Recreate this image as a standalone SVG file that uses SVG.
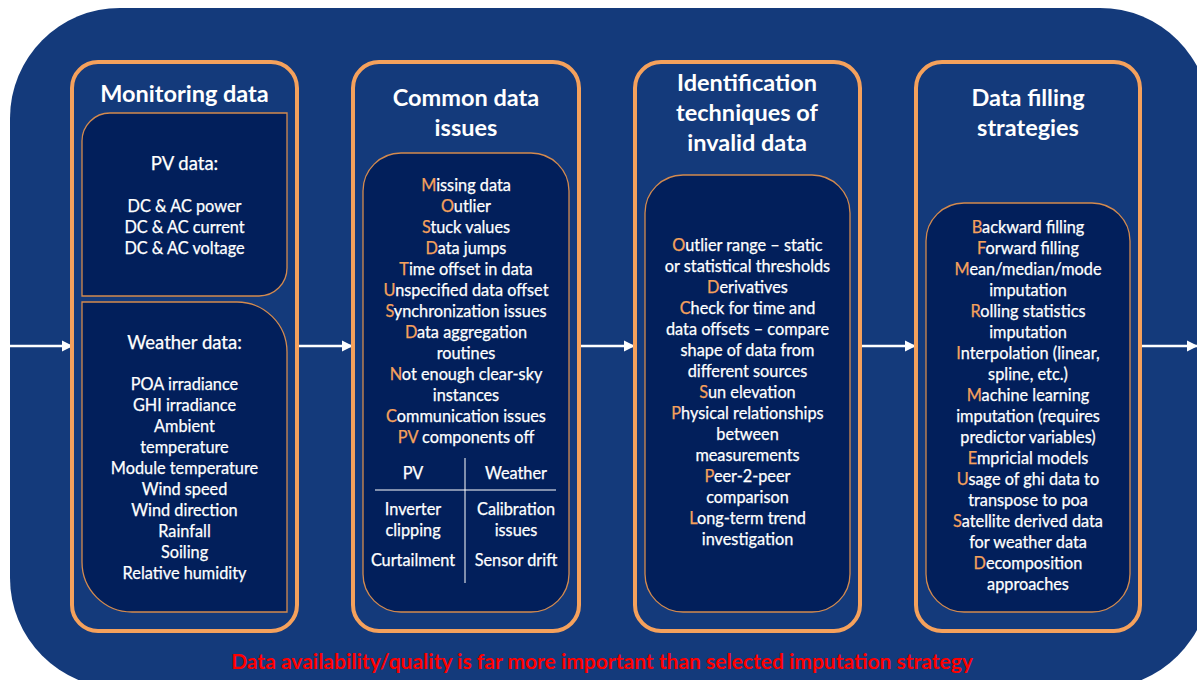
<svg xmlns="http://www.w3.org/2000/svg" width="1197" height="680" viewBox="0 0 1197 680">
<defs>
<style>
.bg{fill:#143a7b}
.panel{fill:#143a7b;stroke:#f5a15c;stroke-width:4}
.inner{fill:#021f5b;stroke:#d48a4e;stroke-width:1.3}
.t{font-family:Lato,"Open Sans",sans-serif;fill:#ffffff;text-anchor:middle}
.title{font-size:23.5px;font-weight:bold}
.body{font-size:16.3px;stroke:#ffffff;stroke-width:0.25}
.sub{font-size:18.5px}
.o{fill:#f5a15c;stroke:#f5a15c}
.conn{stroke:#ffffff;stroke-width:2.5;fill:none;marker-end:url(#ah)}
.note{font-family:Lato,"Open Sans",sans-serif;font-size:21px;font-weight:bold;fill:#ff0000;text-anchor:middle}
</style>
<marker id="ah" viewBox="0 0 10 10" refX="9" refY="5" markerWidth="4.6" markerHeight="4.6" orient="auto" markerUnits="strokeWidth">
<path d="M0,0 L10,5 L0,10 Z" fill="#ffffff"/>
</marker>
</defs>
<rect width="1197" height="680" fill="#ffffff"/>
<rect class="bg" x="10" y="8" width="1200" height="680" rx="110" ry="110"/>

<g id="connectors">
<line class="conn" x1="10" y1="346" x2="72" y2="346"/>
<line class="conn" x1="298" y1="346" x2="352" y2="346"/>
<line class="conn" x1="580" y1="346" x2="634" y2="346"/>
<line class="conn" x1="861" y1="346" x2="915" y2="346"/>
<line class="conn" x1="1141" y1="346" x2="1197" y2="346"/>
</g>

<g id="monitoring">
<rect class="panel" x="72" y="62" width="225" height="569" rx="26"/>
<text class="t title" x="184.5" y="102">Monitoring data</text>
<g id="pv-data">
<path class="inner" d="M110 113 H287 V268 A28 28 0 0 1 259 296 H82 V141 A28 28 0 0 1 110 113 Z"/>
<text class="t body sub" x="184.5" y="170">PV data:</text>
<text class="t body" x="184.5" y="212">DC &amp; AC power</text>
<text class="t body" x="184.5" y="233">DC &amp; AC current</text>
<text class="t body" x="184.5" y="254">DC &amp; AC voltage</text>
</g>
<g id="weather-data">
<path class="inner" d="M82 302 H237 A50 50 0 0 1 287 352 V612 H132 A50 50 0 0 1 82 562 Z"/>
<text class="t body sub" x="184.5" y="349">Weather data:</text>
<text class="t body" x="184.5" y="390">POA irradiance</text>
<text class="t body" x="184.5" y="411">GHI irradiance</text>
<text class="t body" x="184.5" y="432">Ambient</text>
<text class="t body" x="184.5" y="453">temperature</text>
<text class="t body" x="184.5" y="474">Module temperature</text>
<text class="t body" x="184.5" y="495">Wind speed</text>
<text class="t body" x="184.5" y="516">Wind direction</text>
<text class="t body" x="184.5" y="537">Rainfall</text>
<text class="t body" x="184.5" y="558">Soiling</text>
<text class="t body" x="184.5" y="579">Relative humidity</text>
</g>
</g>

<g id="common-issues">
<rect class="panel" x="353" y="62" width="226" height="569" rx="26"/>
<text class="t title" x="466" y="106">Common data</text>
<text class="t title" x="466" y="136">issues</text>
<rect class="inner" x="363" y="153" width="206" height="459" rx="38"/>
<text class="t body" x="466" y="191"><tspan class="o">M</tspan>issing data</text>
<text class="t body" x="466" y="212"><tspan class="o">O</tspan>utlier</text>
<text class="t body" x="466" y="233"><tspan class="o">S</tspan>tuck values</text>
<text class="t body" x="466" y="254"><tspan class="o">D</tspan>ata jumps</text>
<text class="t body" x="466" y="275"><tspan class="o">T</tspan>ime offset in data</text>
<text class="t body" x="466" y="296"><tspan class="o">U</tspan>nspecified data offset</text>
<text class="t body" x="466" y="317"><tspan class="o">S</tspan>ynchronization issues</text>
<text class="t body" x="466" y="338"><tspan class="o">D</tspan>ata aggregation</text>
<text class="t body" x="466" y="359">routines</text>
<text class="t body" x="466" y="380"><tspan class="o">N</tspan>ot enough clear-sky</text>
<text class="t body" x="466" y="401">instances</text>
<text class="t body" x="466" y="422"><tspan class="o">C</tspan>ommunication issues</text>
<text class="t body" x="466" y="443"><tspan class="o">PV</tspan> components off</text>
<line x1="465" y1="458" x2="465" y2="583" stroke="#ffffff" stroke-width="1"/>
<line x1="375" y1="490" x2="556" y2="490" stroke="#ffffff" stroke-width="1"/>
<text class="t body" x="413" y="479">PV</text>
<text class="t body" x="516" y="479">Weather</text>
<text class="t body" x="413" y="515">Inverter</text>
<text class="t body" x="413" y="536">clipping</text>
<text class="t body" x="413" y="566">Curtailment</text>
<text class="t body" x="516" y="515">Calibration</text>
<text class="t body" x="516" y="536">issues</text>
<text class="t body" x="516" y="566">Sensor drift</text>
</g>

<g id="identification">
<rect class="panel" x="635" y="62" width="225" height="569" rx="26"/>
<text class="t title" x="747" y="91">Identification</text>
<text class="t title" x="747" y="121">techniques of</text>
<text class="t title" x="747" y="151">invalid data</text>
<rect class="inner" x="645" y="175" width="205" height="437" rx="38"/>
<text class="t body" x="747.5" y="251"><tspan class="o">O</tspan>utlier range – static</text>
<text class="t body" x="747.5" y="272">or statistical thresholds</text>
<text class="t body" x="747.5" y="293"><tspan class="o">D</tspan>erivatives</text>
<text class="t body" x="747.5" y="314"><tspan class="o">C</tspan>heck for time and</text>
<text class="t body" x="747.5" y="335">data offsets – compare</text>
<text class="t body" x="747.5" y="356">shape of data from</text>
<text class="t body" x="747.5" y="377">different sources</text>
<text class="t body" x="747.5" y="398"><tspan class="o">S</tspan>un elevation</text>
<text class="t body" x="747.5" y="419"><tspan class="o">P</tspan>hysical relationships</text>
<text class="t body" x="747.5" y="440">between</text>
<text class="t body" x="747.5" y="461">measurements</text>
<text class="t body" x="747.5" y="482"><tspan class="o">P</tspan>eer-2-peer</text>
<text class="t body" x="747.5" y="503">comparison</text>
<text class="t body" x="747.5" y="524"><tspan class="o">L</tspan>ong-term trend</text>
<text class="t body" x="747.5" y="545">investigation</text>
</g>

<g id="filling">
<rect class="panel" x="916" y="62" width="224" height="569" rx="26"/>
<text class="t title" x="1028" y="106">Data filling</text>
<text class="t title" x="1028" y="136">strategies</text>
<rect class="inner" x="926" y="203" width="204" height="409" rx="38"/>
<text class="t body" x="1028" y="233"><tspan class="o">B</tspan>ackward filling</text>
<text class="t body" x="1028" y="254"><tspan class="o">F</tspan>orward filling</text>
<text class="t body" x="1028" y="275"><tspan class="o">M</tspan>ean/median/mode</text>
<text class="t body" x="1028" y="296">imputation</text>
<text class="t body" x="1028" y="317"><tspan class="o">R</tspan>olling statistics</text>
<text class="t body" x="1028" y="338">imputation</text>
<text class="t body" x="1028" y="359"><tspan class="o">I</tspan>nterpolation (linear,</text>
<text class="t body" x="1028" y="380">spline, etc.)</text>
<text class="t body" x="1028" y="401"><tspan class="o">M</tspan>achine learning</text>
<text class="t body" x="1028" y="422">imputation (requires</text>
<text class="t body" x="1028" y="443">predictor variables)</text>
<text class="t body" x="1028" y="464"><tspan class="o">E</tspan>mpricial models</text>
<text class="t body" x="1028" y="485"><tspan class="o">U</tspan>sage of ghi data to</text>
<text class="t body" x="1028" y="506">transpose to poa</text>
<text class="t body" x="1028" y="527"><tspan class="o">S</tspan>atellite derived data</text>
<text class="t body" x="1028" y="548">for weather data</text>
<text class="t body" x="1028" y="569"><tspan class="o">D</tspan>ecomposition</text>
<text class="t body" x="1028" y="590">approaches</text>
</g>

<text class="note" x="602" y="669">Data availability/quality is far more important than selected imputation strategy</text>
</svg>
